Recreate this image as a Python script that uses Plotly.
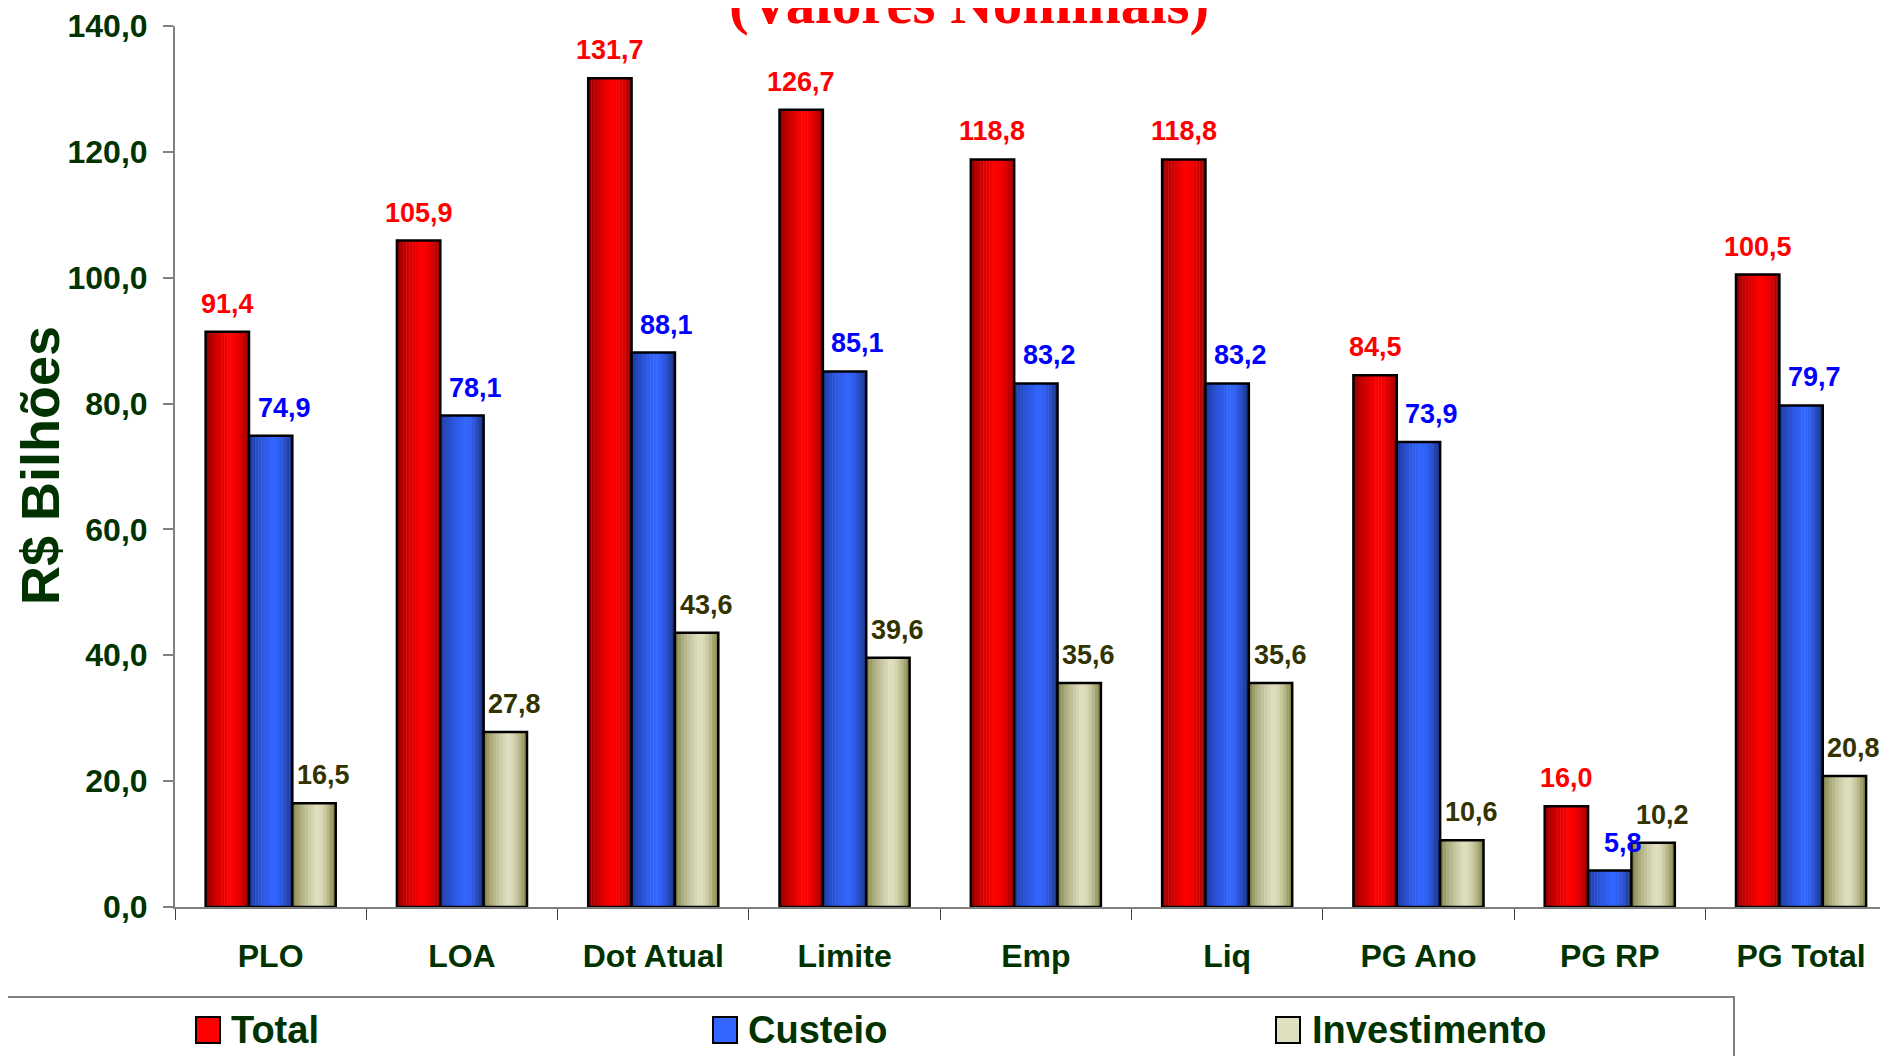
import plotly.graph_objects as go

categories = ['PLO', 'LOA', 'Dot Atual', 'Limite', 'Emp', 'Liq', 'PG Ano', 'PG RP', 'PG Total']
total = [91.4, 105.9, 131.7, 126.7, 118.8, 118.8, 84.5, 16.0, 100.5]
custeio = [74.9, 78.1, 88.1, 85.1, 83.2, 83.2, 73.9, 5.8, 79.7]
investimento = [16.5, 27.8, 43.6, 39.6, 35.6, 35.6, 10.6, 10.2, 20.8]
y_ticks = [0, 20, 40, 60, 80, 100, 120, 140]

W, H = 1888, 1056
SHIFT = 8  # page body margin
L, R, T, B = 175 - SHIFT, SHIFT, 26 - SHIFT, H - (907 - SHIFT)
PW, PH = W - L - R, H - T - B

FONT = 'Arial, Liberation Sans, sans-serif'
GREEN = '#003300'

BAR_W = 0.2267
GROUP_OFF = -0.34
N_STRIPS = 14

# (name, values, dark-left, bright, dark-right, label colour, label dx)
series = [
    ('Total', total, (125, 0, 0), (255, 0, 0), (150, 0, 0), '#FF0000', 0.0),
    ('Custeio', custeio, (25, 50, 140), (51, 102, 255), (25, 45, 120), '#0000FF', 0.07),
    ('Investimento', investimento, (115, 115, 55), (224, 224, 192), (125, 125, 60), '#333300', 0.05),
]


def shade(dark_l, bright, dark_r, t):
    if t < 0.55:
        w = (t / 0.55) ** 0.6
        a = dark_l
    else:
        w = 1 - ((t - 0.55) / 0.45) ** 1.8
        a = dark_r
    w = max(0.0, min(1.0, w))
    return 'rgb(%d,%d,%d)' % tuple(round(a[k] + (bright[k] - a[k]) * w) for k in range(3))


def fmt(v):
    return f'{v:.1f}'.replace('.', ',')


fig = go.Figure()

for i, (name, vals, dl, br, dr, lc, dx) in enumerate(series):
    off = GROUP_OFF + i * BAR_W
    sw = BAR_W / N_STRIPS
    for j in range(N_STRIPS):
        fig.add_trace(go.Bar(
            x=categories, y=vals, offset=off + j * sw, width=sw * 1.15 if j < N_STRIPS - 1 else sw,
            marker=dict(color=shade(dl, br, dr, (j + 0.5) / N_STRIPS), line=dict(width=0)),
            showlegend=False, hoverinfo='skip'
        ))
    fig.add_trace(go.Bar(
        x=categories, y=vals, offset=off, width=BAR_W, name=name,
        marker=dict(color='rgba(0,0,0,0)', line=dict(color='black', width=2.5)),
        showlegend=False
    ))

# data labels
for i, (name, vals, dl, br, dr, lc, dx) in enumerate(series):
    centre = GROUP_OFF + i * BAR_W + BAR_W / 2 + dx
    for k, v in enumerate(vals):
        fig.add_annotation(
            x=k + centre, y=v, xref='x', yref='y', text=fmt(v), showarrow=False,
            yanchor='middle', yshift=28,
            font=dict(family=FONT, size=27, color=lc, weight='bold')
        )


def px(xp):
    return (xp - SHIFT - L) / PW


def py(yp):
    return (H - B - (yp - SHIFT)) / PH


# title (partly outside the top edge, as in the source)
fig.add_annotation(
    x=px(969), y=py(38), xref='paper', yref='paper', xanchor='center', yanchor='bottom',
    text='(Valores Nominais)', showarrow=False,
    font=dict(family='Times New Roman, Liberation Serif, serif', size=59, color='#FF0000', weight='bold')
)

# y axis title
fig.add_annotation(
    x=px(40), y=py(466), xref='paper', yref='paper', xanchor='center', yanchor='middle',
    text='R$ Bilhões', textangle=-90, showarrow=False,
    font=dict(family=FONT, size=54, color=GREEN, weight='bold')
)

# legend box
fig.add_shape(type='rect', xref='paper', yref='paper',
              x0=px(-10), x1=px(1734), y0=py(1080), y1=py(997),
              line=dict(color='#808080', width=2), fillcolor='white', layer='below')
legend_items = [('Total', 196, 229), ('Custeio', 713, 746), ('Investimento', 1276, 1310)]
for (name, sx, tx), (_, _, dl, br, dr, _, _) in zip(legend_items, series):
    fig.add_shape(type='rect', xref='paper', yref='paper',
                  x0=px(sx), x1=px(sx + 24), y0=py(1043), y1=py(1017),
                  line=dict(color='black', width=2), fillcolor=shade(dl, br, dr, 0.55))
    fig.add_annotation(
        x=px(tx), y=py(1030), xref='paper', yref='paper', xanchor='left', yanchor='middle',
        text=name, showarrow=False,
        font=dict(family=FONT, size=38, color=GREEN, weight='bold')
    )

fig.update_layout(
    width=W, height=H,
    barmode='overlay',
    plot_bgcolor='white', paper_bgcolor='white',
    separators=',.',
    margin=dict(l=L, r=R, t=T, b=B, autoexpand=False),
    showlegend=False,
    xaxis=dict(
        range=[-0.5, -0.5 + PW / 191.3], showgrid=False, zeroline=False,
        showline=True, linecolor='#808080', linewidth=2,
        ticks='outside', tickson='boundaries', ticklen=11, tickcolor='#404040', tickwidth=1,
        tickfont=dict(family=FONT, size=32, color=GREEN, weight='bold'),
        ticklabelstandoff=20
    ),
    yaxis=dict(
        range=[0, 140], tickvals=y_ticks, tickformat='.1f', showgrid=False, zeroline=False,
        showline=True, linecolor='#808080', linewidth=2,
        ticks='outside', ticklen=10, tickcolor='#808080', tickwidth=2,
        tickfont=dict(family=FONT, size=32, color=GREEN, weight='bold'),
        ticklabelstandoff=9
    ),
)

fig.write_html('out.html')
